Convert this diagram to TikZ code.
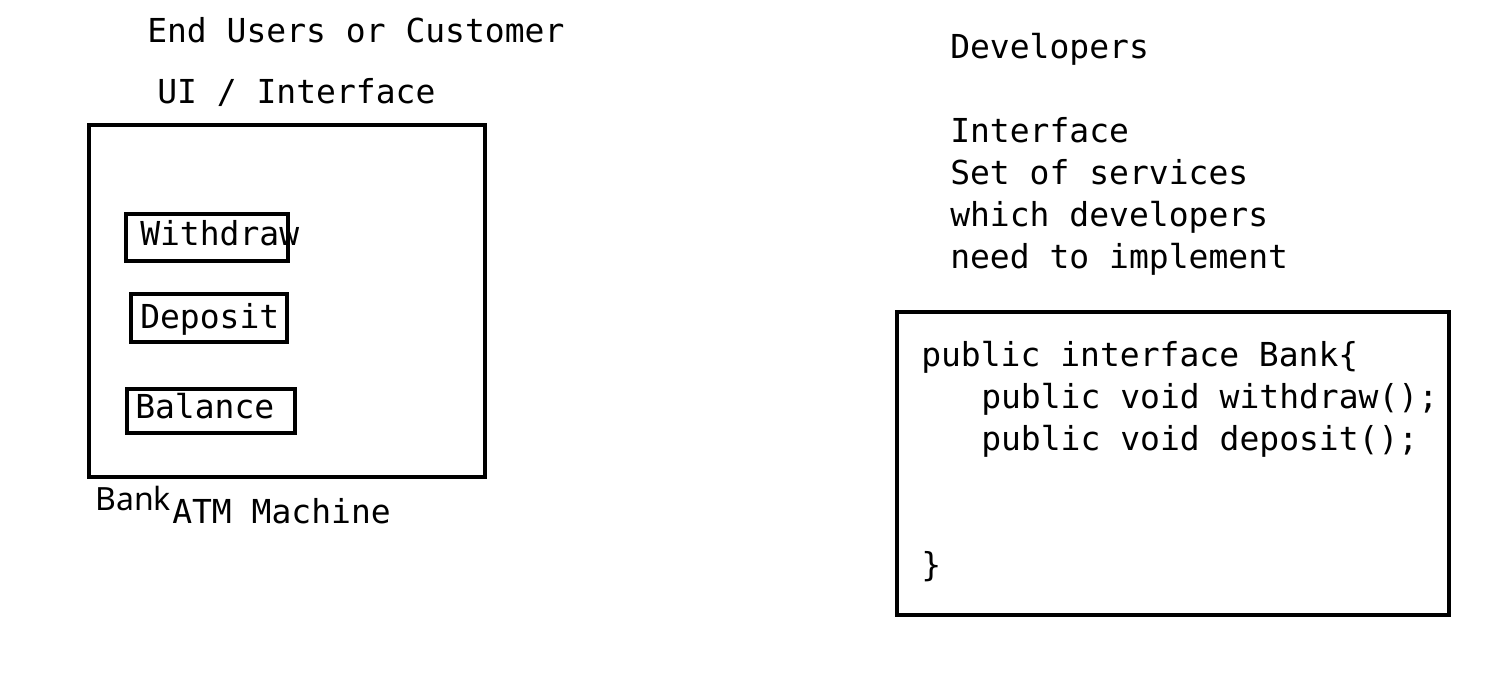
\documentclass[tikz,border=0pt]{standalone}
\usepackage{fontspec}
\setmainfont{DejaVu Sans Mono}
\newfontfamily\banksans{Noto Sans}
\usetikzlibrary{positioning}

\begin{document}
\begin{tikzpicture}[x=1pt,y=-1pt,line width=4.5pt,inner sep=0pt]
\tikzstyle{txt}=[anchor=base west,font=\fontsize{33}{42}\selectfont]
\tikzstyle{box}=[draw,line width=4.5pt]
\useasboundingbox[fill=white] (0,0) rectangle (1499,694);
% left side: ATM machine
\node[txt] (users) at (145,42) {End Users or Customer};
\node[txt] (ui) at (155,103) {UI / Interface};
\draw[box] (89,125) rectangle (485,477);
\draw[box] (126,214) rectangle (288,261);
\draw[box] (131,294) rectangle (287,342);
\draw[box] (127,389) rectangle (295,433);
\node[txt] (withdraw) at (138,245) {Withdraw};
\node[txt] (deposit) at (138,328) {Deposit};
\node[txt] (balance) at (133,418) {Balance};
\node[anchor=base west,font=\banksans\fontsize{32}{36}\selectfont] (bank) at (93,510) {Bank};
\node[txt] (atm) at (170,523) {ATM Machine};
% right side: developers
\node[txt] (dev) at (948,58) {Developers};
\node[txt] (iface) at (948,142) {Interface};
\node[txt] (set) at (948,184) {Set of services};
\node[txt] (which) at (948,226) {which developers};
\node[txt] (need) at (948,268) {need to implement};
\draw[box] (897,312) rectangle (1449,615);
\node[txt] (code1) at (919,366) {public interface Bank\{};
\node[txt] (code2) at (979,408) {public void withdraw();};
\node[txt] (code3) at (979,450) {public void deposit();};
\node[txt] (code4) at (919,576) {\}};
\end{tikzpicture}
\end{document}
